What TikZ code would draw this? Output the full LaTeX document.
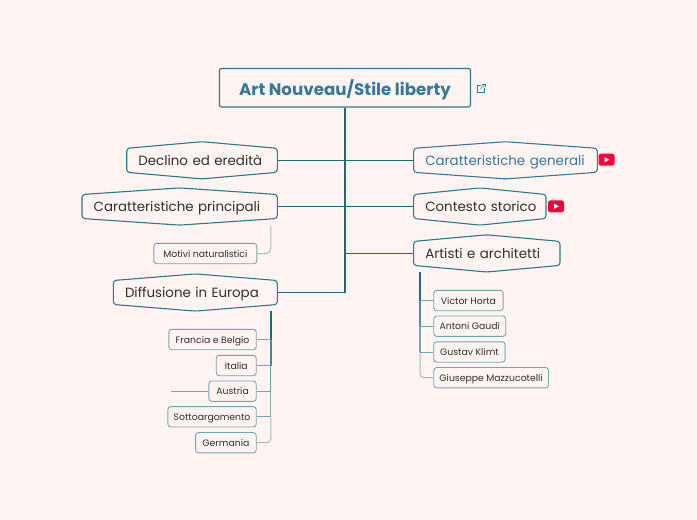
\documentclass[tikz,border=0pt]{standalone}
\usepackage{fontspec}
\setmainfont{Poppins}
\usetikzlibrary{calc}
\definecolor{bgc}{HTML}{FFF4F2}
\definecolor{teal}{HTML}{1F6B75}
\definecolor{tealb}{HTML}{2A7A88}
\definecolor{soft}{HTML}{6FA6B0}
\definecolor{bluet}{HTML}{34789B}
\definecolor{ink}{HTML}{2E2E2E}
\definecolor{ytred}{HTML}{F5003C}
\tikzset{
  x=1pt,y=-1pt,
  hexline/.style={draw=tealb,line width=1.1pt,rounded corners=3pt},
  hextext/.style={font=\fontsize{13.4}{15}\selectfont,text=ink,inner xsep=11.5pt,inner ysep=0pt,text height=12pt,text depth=2pt,align=left,anchor=west},
  leaf/.style={draw=soft,line width=.9pt,rounded corners=3pt,font=\fontsize{9.3}{10}\selectfont,text=ink,inner xsep=0pt,inner ysep=0pt,text height=9pt,text depth=1.8pt,minimum height=20.4pt,anchor=east},
  leafl/.style={leaf,anchor=west},
  link/.style={draw=teal,line width=1.2pt},
}
\newcommand\hexn[6][]{%
  \pgfmathsetmacro\hw{#4-#3-23}%
  \pgfmathsetmacro\hm{(#3+#4)/2}%
  \draw[hexline,#1] (#3,#5-12) -- (\hm,#5-18.6) -- (#4,#5-12) -- (#4,#5+12) -- (\hm,#5+18.6) -- (#3,#5+12) -- cycle;
  \node[hextext,#1,draw=none,text width=\hw pt] (#2) at (#3,#5) {\mbox{#6}};}
\newcommand\ytb[3]{%
  \fill[ytred,rounded corners=2.5pt] (#2-8,#3-6) rectangle (#2+8,#3+6);
  \fill[white] (#2-2,#3-2.6) -- (#2+3,#3) -- (#2-2,#3+2.6) -- cycle;}
\begin{document}
\begin{tikzpicture}
\path[use as bounding box,fill=bgc] (0,0) rectangle (697,520);
% root
\node[draw=tealb,line width=1.2pt,rounded corners=2pt,minimum width=251pt,minimum height=38.6pt,inner sep=0pt,
  font=\fontsize{16.7}{18}\selectfont\bfseries,text=bluet,text height=16pt,text depth=1.4pt] (root) at (345,87.7) {Art Nouveau/Stile liberty};
% main nodes
\hexn{dec}{126.7}{277.3}{160.3}{Declino ed eredità}
\hexn{cpr}{82}{277.3}{206.5}{Caratteristiche principali}
\hexn{dif}{113.3}{277.3}{292.5}{Diffusione in Europa}
\hexn[text=bluet,draw=bluet]{cge}{413.6}{597.3}{160.3}{Caratteristiche generali}
\hexn{cst}{413.6}{546}{206.5}{Contesto storico}
\hexn{art}{413.6}{560}{253.4}{Artisti e architetti}
% trunk joints
\coordinate (jdec) at (root.south |- dec.east);
\coordinate (jcpr) at (root.south |- cpr.east);
\coordinate (jart) at (root.south |- art.west);
\coordinate (jdif) at (root.south |- dif.east);
\draw[link,line width=1.7pt] (root.south) -- (jdif);
\draw[link] (jdif) -- (dif.east);
\draw[link] (dec.east) -- (cge.west);
\draw[link] (cpr.east) -- (cst.west);
\draw[link] (jart) -- (art.west);
% icons
\ytb{yt1}{606.5}{159.7}
\ytb{yt2}{556}{206.3}
\begin{scope}[bluet,line width=.6pt]
\draw (484.5,88) -- (484.5,92) -- (477.5,92) -- (477.5,85) -- (481,85);
\draw (480.5,88.8) -- (484.8,84.5);
\draw (482.3,84.5) -- (484.8,84.5) -- (484.8,87);
\end{scope}
% leaves
\node[leaf,minimum width=103pt] (mot) at (257.3,253.5) {Motivi naturalistici};
\node[leaf,minimum width=87.4pt] (fra) at (256.7,339.5) {Francia e Belgio};
\node[leaf,minimum width=40pt] (ita) at (256.7,365.5) {Italia};
\node[leaf,minimum width=47.4pt] (aus) at (256.7,391.2) {Austria};
\node[leaf,minimum width=88.4pt] (sot) at (256.7,416.8) {Sottoargomento};
\node[leaf,minimum width=60.7pt] (ger) at (256.7,442.7) {Germania};
\node[leafl,minimum width=69.4pt] (vic) at (433.3,300.5) {Victor Horta};
\node[leafl,minimum width=72pt] (ant) at (433.3,326.2) {Antoni Gaudì};
\node[leafl,minimum width=71.4pt] (gus) at (433.3,352) {Gustav Klimt};
\node[leafl,minimum width=114.7pt] (giu) at (433.3,377.7) {Giuseppe Mazzucotelli};
% free end of Austria
\coordinate (ausfree) at (171,391.2);
\draw[draw=soft,line width=.9pt] (ausfree) -- (aus.west);
% left spine
\coordinate (l0) at (270.8,311);
\coordinate (l1) at (270.8,339.5);
\coordinate (l2) at (270.8,365.5);
\coordinate (l3) at (270.8,391.2);
\coordinate (l4) at (270.8,416.8);
\coordinate (l5) at (270.8,442.7);
\draw[teal,line width=1.6pt] (l0) -- (l1);
\draw[teal!80!bgc,line width=1.4pt] (l1) -- (l2);
\draw[teal!65!bgc,line width=1.2pt] (l2) -- (l3);
\draw[teal!50!bgc,line width=1.1pt] (l3) -- (l4);
\draw[teal!40!bgc,line width=1pt,rounded corners=4pt] (l4) -- (l5) -- (ger.east);
\draw[soft,line width=.9pt] (fra.east) -- (l1);
\draw[soft,line width=.9pt] (ita.east) -- (l2);
\draw[soft,line width=.9pt] (aus.east) -- (l3);
\draw[soft,line width=.9pt] (sot.east) -- (l4);
% motivi
\coordinate (m0) at (270.8,225.5);
\draw[teal!40!bgc,line width=1pt,rounded corners=5pt] (m0) -- (m0 |- mot.east) -- (mot.east);
% right spine
\coordinate (r0) at (420,271.5);
\coordinate (r1) at (420,300.5);
\coordinate (r2) at (420,326.2);
\coordinate (r3) at (420,352);
\coordinate (r4) at (420,377.7);
\draw[teal,line width=1.6pt] (r0) -- (r1);
\draw[teal!75!bgc,line width=1.4pt] (r1) -- (r2);
\draw[teal!58!bgc,line width=1.2pt] (r2) -- (r3);
\draw[teal!42!bgc,line width=1pt,rounded corners=4pt] (r3) -- (r4) -- (giu.west);
\draw[soft,line width=.9pt] (r1) -- (vic.west);
\draw[soft,line width=.9pt] (r2) -- (ant.west);
\draw[soft,line width=.9pt] (r3) -- (gus.west);
\end{tikzpicture}
\end{document}
